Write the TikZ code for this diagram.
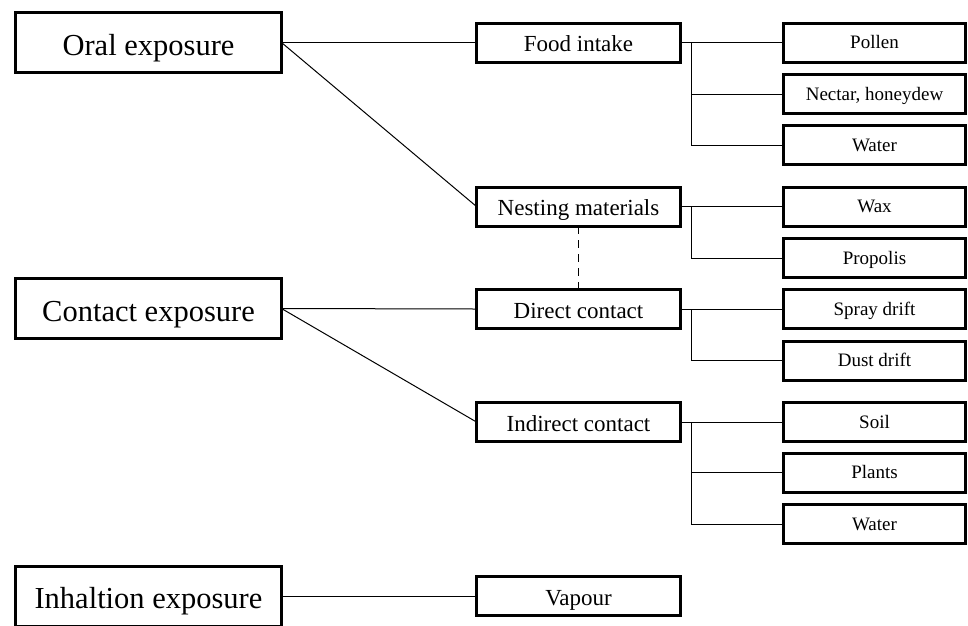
\documentclass[tikz,border=0pt]{standalone}
\usepackage{fontspec}
\setmainfont{Liberation Serif}
\begin{document}
\begin{tikzpicture}[x=1pt,y=-1pt,
  box/.style={draw,line width=3pt,inner sep=0pt,outer sep=0pt,align=center,text depth=0pt},
  bigbox/.style={box,minimum width=266pt,minimum height=60pt,font=\fontsize{30.5}{34}\selectfont,text height=25pt},
  midbox/.style={box,minimum width=204pt,minimum height=39pt,font=\fontsize{23}{26}\selectfont,text height=18pt},
  leafbox/.style={box,minimum width=182pt,minimum height=39pt,font=\fontsize{19}{22}\selectfont,text height=12pt},
  conn/.style={line width=1pt}]
\useasboundingbox (0,0) rectangle (968,625);
% left
\node[bigbox] (oral) at (148.5,42.5) {Oral exposure};
\node[bigbox] (contact) at (148.5,308.5) {Contact exposure};
\node[bigbox] (inhal) at (148.5,596) {Inhaltion exposure};
% middle
\node[midbox] (food) at (578.5,42.5) {Food intake};
\node[midbox] (nest) at (578.5,206.5) {Nesting materials};
\node[midbox] (direct) at (578.5,309) {Direct contact};
\node[midbox] (indirect) at (578.5,422) {Indirect contact};
\node[midbox] (vapour) at (578.5,596) {Vapour};
% right
\node[leafbox] (pollen) at (874.5,42.5) {Pollen};
\node[leafbox] (nectar) at (874.5,94) {Nectar, honeydew};
\node[leafbox] (water1) at (874.5,145) {Water};
\node[leafbox] (wax) at (874.5,206.5) {Wax};
\node[leafbox] (propolis) at (874.5,258) {Propolis};
\node[leafbox] (spray) at (874.5,309) {Spray drift};
\node[leafbox] (dust) at (874.5,360.5) {Dust drift};
\node[leafbox] (soil) at (874.5,422) {Soil};
\node[leafbox] (plants) at (874.5,472.5) {Plants};
\node[leafbox] (water2) at (874.5,524) {Water};
% left to middle
\draw[conn] (oral.east) -- (food.west);
\draw[conn] (oral.east) -- (nest.west);
\draw[conn] (contact.east) -- (direct.west);
\draw[conn] (contact.east) -- (indirect.west);
\draw[conn] (inhal.east) -- (vapour.west);
\draw[conn,dash pattern=on 8pt off 6pt] (nest.south) -- (direct.north);
% middle to right
\coordinate (fb) at (691,42.5);
\draw[conn] (food.east) -- (pollen.west);
\draw[conn] (fb) |- (nectar.west);
\draw[conn] (fb) |- (water1.west);
\coordinate (nb) at (691,206.5);
\draw[conn] (nest.east) -- (wax.west);
\draw[conn] (nb) |- (propolis.west);
\coordinate (db) at (691,309);
\draw[conn] (direct.east) -- (spray.west);
\draw[conn] (db) |- (dust.west);
\coordinate (ib) at (691,422);
\draw[conn] (indirect.east) -- (soil.west);
\draw[conn] (ib) |- (plants.west);
\draw[conn] (ib) |- (water2.west);
\end{tikzpicture}
\end{document}
